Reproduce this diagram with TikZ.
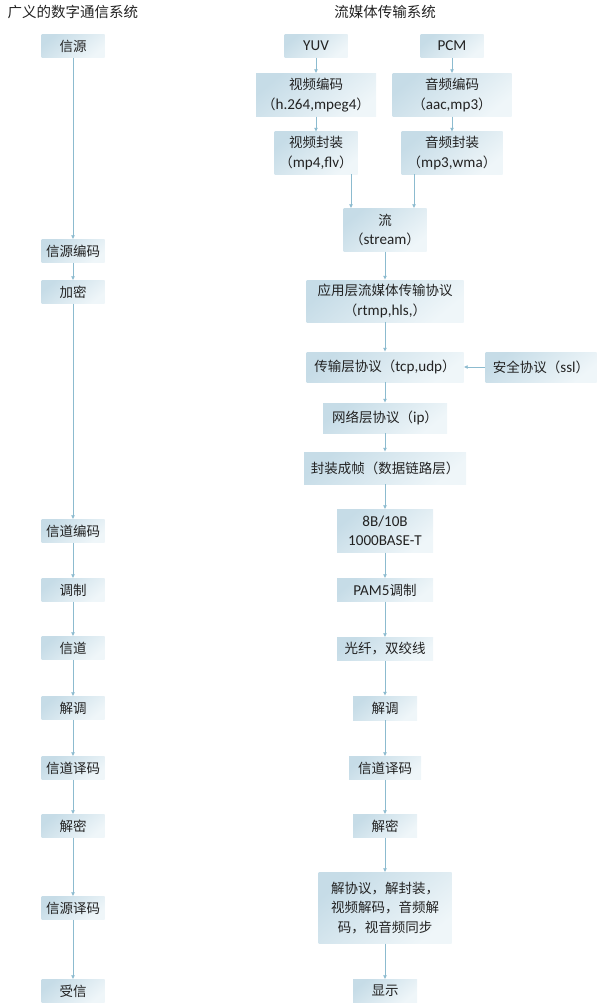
\documentclass[tikz,border=0pt]{standalone}
\usepackage{fontspec}
\setmainfont{Noto Sans CJK SC}
\newfontfamily\lat{Carlito}[Scale=1.12]
\usepackage{xcolor}
\usepackage{tikz}
\usetikzlibrary{positioning,calc,arrows.meta}

\definecolor{boxtop}{HTML}{C6DCE7}
\definecolor{boxbot}{HTML}{EFF6F9}
\definecolor{flowc}{HTML}{8CBBCF}
\definecolor{inkc}{HTML}{222222}

\tikzset{
  box/.style={top color=boxtop, bottom color=boxbot, shading angle=40,
    text=inkc, align=center, inner xsep=4pt, inner ysep=2pt,
    minimum width=63pt, minimum height=23pt,
    font=\fontsize{13.5}{19.5}\selectfont},
  title/.style={text=inkc, font=\fontsize{14.5}{17}\selectfont},
  flow/.style={draw=flowc, line width=0.8pt, -{Latex[length=4pt,width=4pt]}},
}

\begin{document}
\begin{tikzpicture}[x=1pt,y=-1pt]
\useasboundingbox (0,0) rectangle (600,1006);
% Titles
\node[title] (ltitle) at (73,12) {广义的数字通信系统};
\node[title] (rtitle) at (385,12) {流媒体传输系统};
% Left column
\foreach \name/\y/\txt in {src/46/信源, senc/251/信源编码, encr/292/加密,
    cenc/531/信道编码, mod/590/调制, chan/648/信道, ldemod/708/解调,
    lcdec/768/信道译码, ldecr/826/解密, sdec/908/信源译码, recv/991/受信} {
    \node[box] (\name) at (73,\y) {\txt};
}
\foreach \a/\b in {src/senc, senc/encr, encr/cenc, cenc/mod, mod/chan,
    chan/ldemod, ldemod/lcdec, lcdec/ldecr, ldecr/sdec, sdec/recv} {
    \draw[flow] (\a) -- (\b);
}
% Right column: sources
\node[box] (yuv) at (316,46) {{\lat YUV}};
\node[box] (pcm) at (452,46) {{\lat PCM}};
\node[box, minimum width=120pt, minimum height=43pt] (venc) at (316,95) {视频编码\\（{\lat h.264,mpeg4}）};
\node[box, minimum width=119pt, minimum height=43pt] (aenc) at (452,95) {音频编码\\（{\lat aac,mp3}）};
\node[box, minimum width=83pt, minimum height=42pt] (vpack) at (316,153) {视频封装\\（{\lat mp4,flv}）};
\node[box, minimum width=101pt, minimum height=42pt] (apack) at (452,153) {音频封装\\（{\lat mp3,wma}）};
\node[box, minimum width=83pt, minimum height=43pt] (stream) at (385,230) {流\\（{\lat stream}）};
% Protocol stack
\node[box, minimum width=157pt, minimum height=42pt] (app) at (385,301) {应用层流媒体传输协议\\（{\lat rtmp,hls,}）};
\node[box, minimum width=157pt, minimum height=30pt] (trans) at (385,367) {传输层协议（{\lat tcp,udp}）};
\node[box, minimum width=111pt, minimum height=30pt] (ssl) at (541,367) {安全协议（{\lat ssl}）};
\node[box, minimum width=124pt, minimum height=30pt] (net) at (385,418) {网络层协议（{\lat ip}）};
\node[box, minimum width=162pt, minimum height=32pt] (frame) at (385,468) {封装成帧（数据链路层）};
\node[box, minimum width=96pt, minimum height=43pt] (lenc) at (385,531) {{\lat 8B/10B}\\{\lat 1000BASE-T}};
\node[box, minimum width=96pt] (pam) at (385,590) {{\lat PAM5}调制};
\node[box, minimum width=96pt] (fiber) at (385,649) {光纤，双绞线};
% Receiving side
\node[box, minimum width=64pt, minimum height=24pt] (rdemod) at (385,708) {解调};
\node[box, minimum width=72pt] (rcdec) at (385,768) {信道译码};
\node[box, minimum width=64pt] (rdecr) at (385,826) {解密};
\node[box, minimum width=133pt, minimum height=71pt] (unpack) at (385,908) {解协议，解封装，\\视频解码，音频解\\码，视音频同步};
\node[box, minimum width=64pt] (show) at (385,991) {显示};
% Connectors
\draw[flow] (yuv) -- (venc);
\draw[flow] (venc) -- (vpack);
\draw[flow] (pcm) -- (aenc);
\draw[flow] (aenc) -- (apack);
\draw[flow] ([xshift=35pt]vpack.south) -- ([xshift=35pt]vpack.south |- stream.north);
\draw[flow] ([xshift=-38pt]apack.south) -- ([xshift=-38pt]apack.south |- stream.north);
\foreach \a/\b in {stream/app, app/trans, trans/net, net/frame, frame/lenc,
    lenc/pam, pam/fiber, fiber/rdemod, rdemod/rcdec, rcdec/rdecr,
    rdecr/unpack, unpack/show} {
    \draw[flow] (\a) -- (\b);
}
\draw[flow] (ssl) -- (trans);
\end{tikzpicture}
\end{document}
